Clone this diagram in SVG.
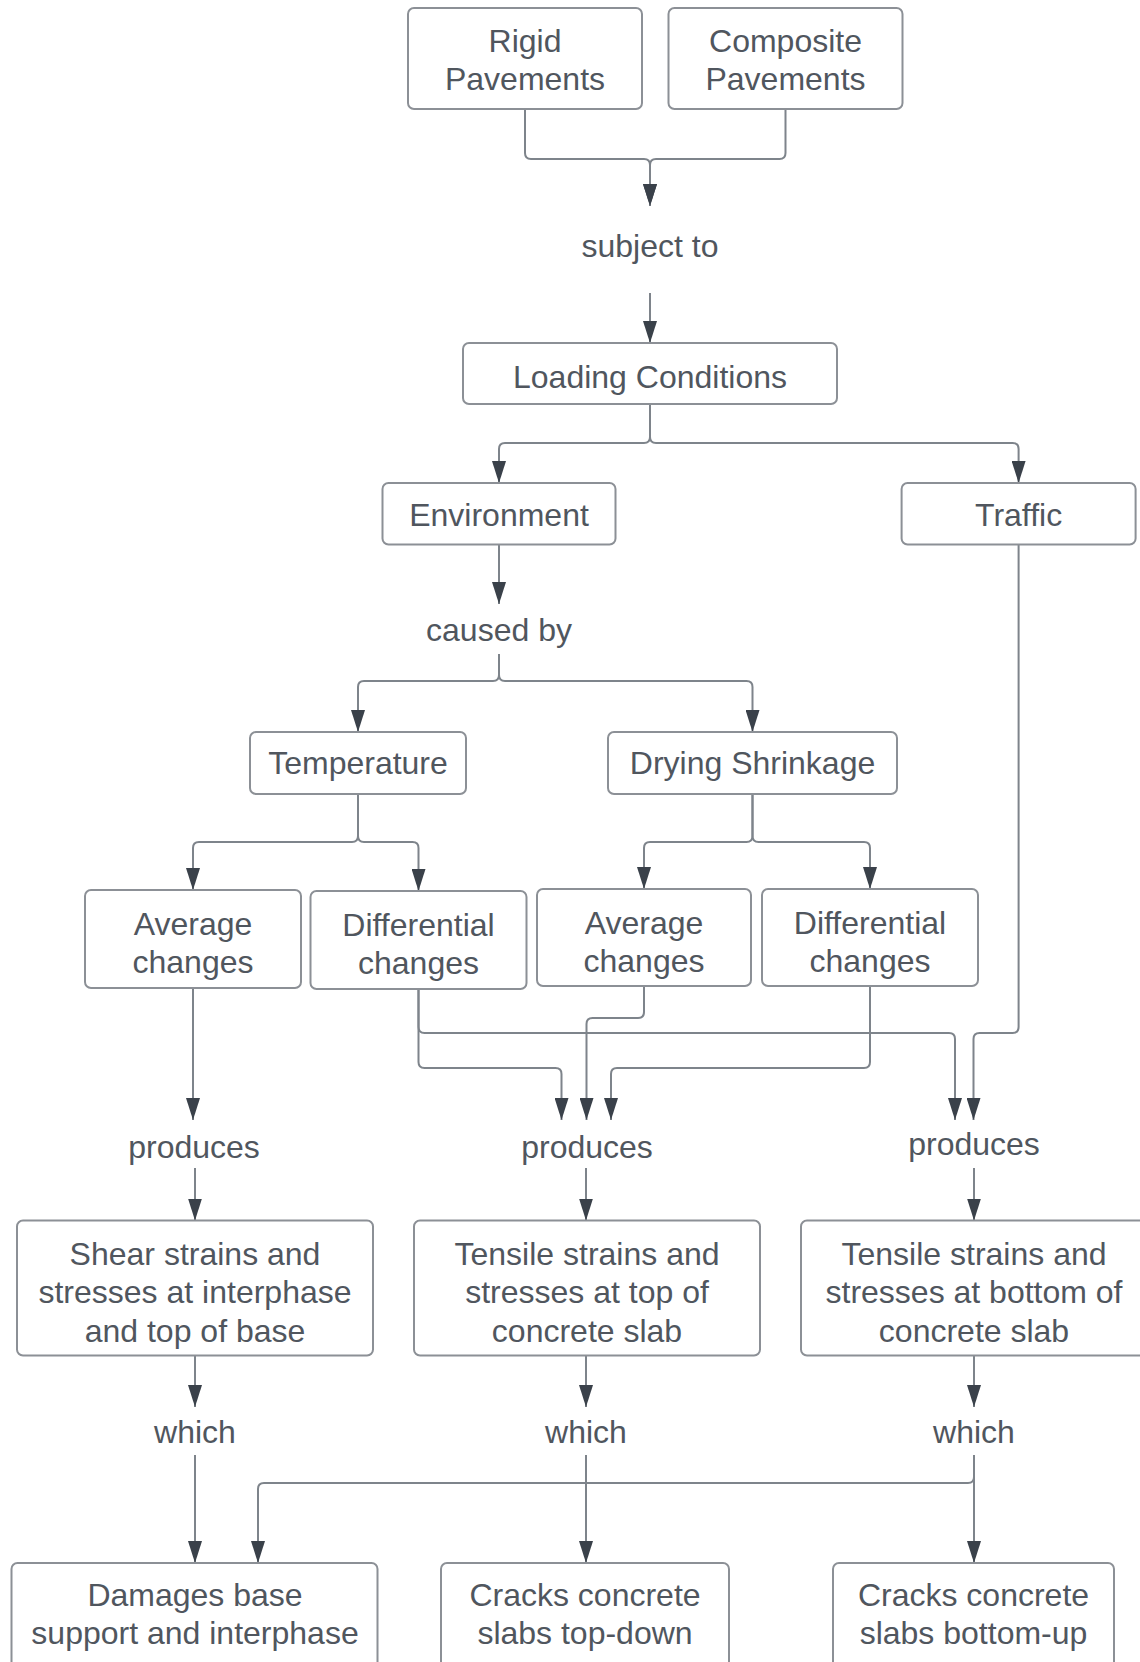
<svg xmlns="http://www.w3.org/2000/svg" width="1140" height="1662" viewBox="0 0 1140 1662">
<style>
.box{fill:#ffffff;stroke:#8c9096;stroke-width:2}
.t{font-family:"Liberation Sans",Arial,sans-serif;font-size:32px;fill:#50565e;text-anchor:middle}
.c{fill:none;stroke:#7e848b;stroke-width:2}
</style>
<defs>
<marker id="ah" markerWidth="22" markerHeight="14" refX="22" refY="7" orient="auto" markerUnits="userSpaceOnUse">
<path d="M0,0 L22,7 L0,14 Z" fill="#3a414a"/>
</marker>
</defs>
<rect width="1140" height="1662" fill="#ffffff"/>
<g id="connectors" class="c" marker-end="url(#ah)">
<path d="M525,109 V153 Q525,159 531,159 H644 Q650,159 650,165 V206"/>
<path d="M785.5,109 V153 Q785.5,159 779.5,159 H656 Q650,159 650,165 V206"/>
<path d="M650,293 V343"/>
<path d="M650,404 V437 Q650,443 644,443 H505 Q499,443 499,449 V483"/>
<path d="M650,404 V437 Q650,443 656,443 H1012.6 Q1018.6,443 1018.6,449 V483"/>
<path d="M499,544.5 V604"/>
<path d="M499,654 V675 Q499,681 493,681 H364 Q358,681 358,687 V732"/>
<path d="M499,654 V675 Q499,681 505,681 H746.5 Q752.5,681 752.5,687 V732"/>
<path d="M358,794 V836 Q358,842 352,842 H199 Q193,842 193,848 V890"/>
<path d="M358,794 V836 Q358,842 364,842 H412.5 Q418.5,842 418.5,848 V891"/>
<path d="M752.5,794 V836 Q752.5,842 746.5,842 H650 Q644,842 644,848 V889"/>
<path d="M752.5,794 V836 Q752.5,842 758.5,842 H864 Q870,842 870,848 V889"/>
<path d="M193,988 V1120"/>
<path d="M418.5,989 V1062 Q418.5,1068 424.5,1068 H555.5 Q561.5,1068 561.5,1074 V1120"/>
<path d="M418.5,989 V1027 Q418.5,1033 424.5,1033 H949 Q955,1033 955,1039 V1120"/>
<path d="M644,986 V1012 Q644,1018 638,1018 H592.5 Q586.5,1018 586.5,1024 V1120"/>
<path d="M870,986 V1062 Q870,1068 864,1068 H617 Q611,1068 611,1074 V1120"/>
<path d="M1018.6,544.5 V1027 Q1018.6,1033 1012.6,1033 H979.5 Q973.5,1033 973.5,1039 V1120"/>
<path d="M195,1168 V1220.5"/>
<path d="M586,1168 V1220.5"/>
<path d="M974,1168 V1220.5"/>
<path d="M195,1355.5 V1407"/>
<path d="M586,1355.5 V1407"/>
<path d="M974,1355.5 V1407"/>
<path d="M195,1455 V1563"/>
<path d="M586,1455 V1563"/>
<path d="M974,1455 V1563"/>
<path d="M974,1455 V1477 Q974,1483 968,1483 H264 Q258,1483 258,1489 V1563"/>
</g>
<g id="rigid"><rect class="box" x="408" y="8" width="234" height="101" rx="6"/><text class="t" x="525" y="52">Rigid</text><text class="t" x="525" y="90">Pavements</text></g>
<g id="composite"><rect class="box" x="668.5" y="8" width="234" height="101" rx="6"/><text class="t" x="785.5" y="52">Composite</text><text class="t" x="785.5" y="90">Pavements</text></g>
<g id="subject-to"><text class="t" x="650" y="257">subject to</text></g>
<g id="loading"><rect class="box" x="463" y="343" width="374" height="61" rx="6"/><text class="t" x="650" y="388">Loading Conditions</text></g>
<g id="environment"><rect class="box" x="382.5" y="483" width="233" height="61.5" rx="6"/><text class="t" x="499" y="526">Environment</text></g>
<g id="traffic"><rect class="box" x="901.6" y="483" width="234" height="61.5" rx="6"/><text class="t" x="1018.6" y="526">Traffic</text></g>
<g id="caused-by"><text class="t" x="499" y="641">caused by</text></g>
<g id="temperature"><rect class="box" x="250" y="732" width="216" height="62" rx="6"/><text class="t" x="358" y="774">Temperature</text></g>
<g id="drying"><rect class="box" x="608" y="732" width="289" height="62" rx="6"/><text class="t" x="752.5" y="774">Drying Shrinkage</text></g>
<g id="avg-t"><rect class="box" x="85" y="890" width="216" height="98" rx="6"/><text class="t" x="193" y="935">Average</text><text class="t" x="193" y="973">changes</text></g>
<g id="diff-t"><rect class="box" x="310.5" y="891" width="216" height="98" rx="6"/><text class="t" x="418.5" y="936">Differential</text><text class="t" x="418.5" y="974">changes</text></g>
<g id="avg-d"><rect class="box" x="537" y="889" width="214" height="97" rx="6"/><text class="t" x="644" y="934">Average</text><text class="t" x="644" y="972">changes</text></g>
<g id="diff-d"><rect class="box" x="762" y="889" width="216" height="97" rx="6"/><text class="t" x="870" y="934">Differential</text><text class="t" x="870" y="972">changes</text></g>
<g id="produces-1"><text class="t" x="194" y="1158">produces</text></g>
<g id="produces-2"><text class="t" x="587" y="1158">produces</text></g>
<g id="produces-3"><text class="t" x="974" y="1155">produces</text></g>
<g id="shear"><rect class="box" x="17" y="1220.5" width="356" height="135" rx="6"/><text class="t" x="195" y="1265">Shear strains and</text><text class="t" x="195" y="1303">stresses at interphase</text><text class="t" x="195" y="1342">and top of base</text></g>
<g id="tensile-top"><rect class="box" x="414" y="1220.5" width="346" height="135" rx="6"/><text class="t" x="587" y="1265">Tensile strains and</text><text class="t" x="587" y="1303">stresses at top of</text><text class="t" x="587" y="1342">concrete slab</text></g>
<g id="tensile-bottom"><rect class="box" x="801" y="1220.5" width="346" height="135" rx="6"/><text class="t" x="974" y="1265">Tensile strains and</text><text class="t" x="974" y="1303">stresses at bottom of</text><text class="t" x="974" y="1342">concrete slab</text></g>
<g id="which-1"><text class="t" x="195" y="1443">which</text></g>
<g id="which-2"><text class="t" x="586" y="1443">which</text></g>
<g id="which-3"><text class="t" x="974" y="1443">which</text></g>
<g id="damages"><rect class="box" x="11.5" y="1563" width="366" height="120" rx="6"/><text class="t" x="195" y="1606">Damages base</text><text class="t" x="195" y="1644">support and interphase</text></g>
<g id="cracks-top"><rect class="box" x="441" y="1563" width="288" height="120" rx="6"/><text class="t" x="585" y="1606">Cracks concrete</text><text class="t" x="585" y="1644">slabs top-down</text></g>
<g id="cracks-bottom"><rect class="box" x="833" y="1563" width="281" height="120" rx="6"/><text class="t" x="973.5" y="1606">Cracks concrete</text><text class="t" x="973.5" y="1644">slabs bottom-up</text></g>
</svg>
